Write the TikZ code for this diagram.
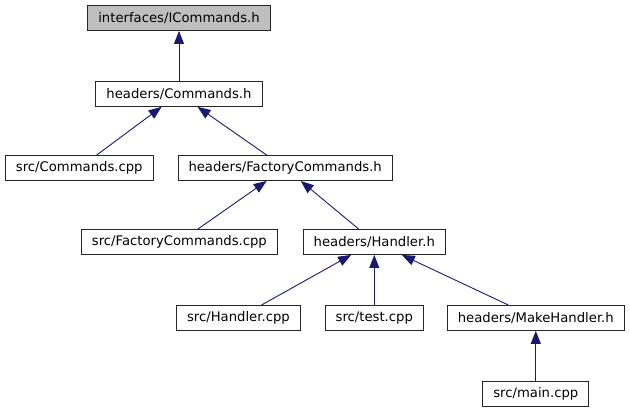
\documentclass[tikz,border=0pt]{standalone}
\usepackage{fontspec}
\setmainfont{DejaVu Sans}
\usetikzlibrary{positioning, arrows.meta}
\definecolor{edgeblue}{RGB}{25, 25, 112}
\definecolor{rootgray}{RGB}{191, 191, 191}

\begin{document}
\begin{tikzpicture}[
      x=1pt, y=-1pt,
      font=\fontsize{13.2}{15}\selectfont,
      filebox/.style={draw=black!85, fill=white, line width=0.9pt, minimum height=25pt, inner xsep=10.5pt, inner ysep=0pt},
      rootbox/.style={filebox, fill=rootgray},
      incedge/.style={-{Triangle[length=13pt, width=10pt]}, draw=edgeblue, line width=0.9pt}
    ]
      \useasboundingbox (0,0) rectangle (630,411);

      % Nodes
      \node[rootbox] (ic) at (179,18) {interfaces/ICommands.h};
      \node[filebox, below=50pt of ic] (cmdh) {headers/Commands.h};
      \node[filebox, anchor=west] (cmdcpp) at (5,168) {src/Commands.cpp};
      \node[filebox, right=24pt of cmdcpp] (factoryh) {headers/FactoryCommands.h};
      \node[filebox, anchor=west] (factorycpp) at (81,242) {src/FactoryCommands.cpp};
      \node[filebox, right=25pt of factorycpp] (handlerh) {headers/Handler.h};
      \node[filebox, below=50pt of handlerh] (testcpp) {src/test.cpp};
      \node[filebox, left=24pt of testcpp] (handlercpp) {src/Handler.cpp};
      \node[filebox, right=23pt of testcpp] (makeh) {headers/MakeHandler.h};
      \node[filebox, below=50pt of makeh] (maincpp) {src/main.cpp};

      % Edges
      \draw[incedge] (cmdh) -- (ic);
      \draw[incedge] (cmdcpp) -- (cmdh);
      \draw[incedge] (factoryh) -- (cmdh);
      \draw[incedge] (factorycpp) -- (factoryh);
      \draw[incedge] (handlerh) -- (factoryh);
      \draw[incedge] (handlercpp) -- (handlerh);
      \draw[incedge] (testcpp) -- (handlerh);
      \draw[incedge] (makeh) -- (handlerh);
      \draw[incedge] (maincpp) -- (makeh);
    \end{tikzpicture}
\end{document}
